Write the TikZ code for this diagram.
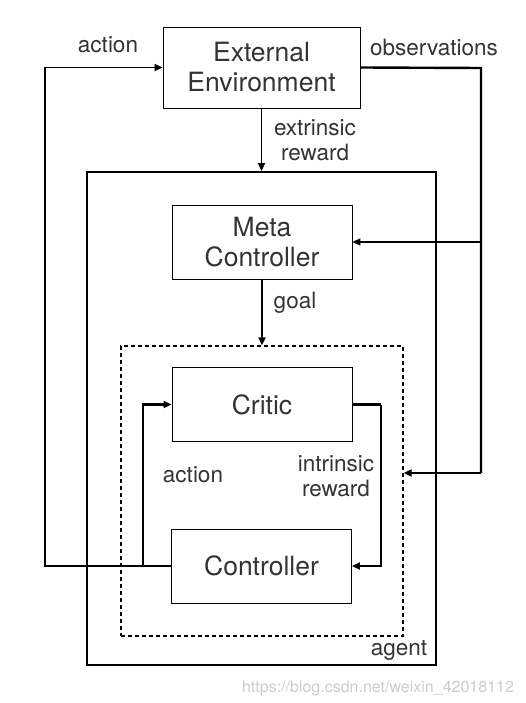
\documentclass[tikz,border=0pt]{standalone}
\usepackage{fontspec}
\setmainfont{TeX Gyre Heros}
\usetikzlibrary{arrows.meta}
\begin{document}
\begin{tikzpicture}[x=1pt,y=-1pt,
  box/.style={draw, line width=0.9pt, align=center, font=\fontsize{26.5}{30}\selectfont, text=black!80},
  lbl/.style={align=center, font=\fontsize{22.5}{25}\selectfont, text=black!80},
  arr/.style={-{Triangle[length=8pt,width=7pt]}},
  thk/.style={line width=1.9pt},
  thkk/.style={line width=2.6pt}]
\useasboundingbox (0,0) rectangle (525,703);
% boxes
\node[box, minimum width=197, minimum height=81] (env) at (261.5,67.5) {External\\Environment};
\node[draw, line width=1.9pt, minimum width=349, minimum height=493] (agent) at (261.5,418.5) {};
\node[box, minimum width=180, minimum height=74] (meta) at (262,242) {Meta\\Controller};
\node[draw, dashed, line width=1.3pt, dash pattern=on 4pt off 3pt, minimum width=282, minimum height=290] (inner) at (262,491) {};
\node[box, minimum width=180, minimum height=74] (critic) at (262,404.5) {Critic};
\node[box, minimum width=180, minimum height=74] (ctrl) at (261.5,566) {Controller};
% labels
\node[lbl] (lact) at (108,45) {action};
\node[lbl] (lobs) at (434,47) {observations};
\node[lbl] (lext) at (315,140) {extrinsic\\reward};
\node[lbl] (lgoal) at (295,303) {goal};
\node[lbl] (liact) at (193,475) {action};
\node[lbl] (lint) at (336,476) {intrinsic\\reward};
\node[lbl] (lagent) at (399,650) {agent};
\node[font=\fontsize{16}{18}\selectfont, text=black!20] (wm) at (378,688) {https://blog.csdn.net/weixin\_42018112};
% coordinates
\coordinate (lx) at (45,566);
\coordinate (ax) at (143,566);
\coordinate (ox) at (481,68);
\coordinate (om) at (481,242);
\coordinate (oi) at (481,473);
\coordinate (rx) at (381,404.5);
% connectors
\draw[thk, arr] (ctrl.west) -- (lx) |- (env.west);
\draw[thkk, arr] (ax) |- (critic.west);
\draw[line width=2.4pt] (env.east) -- (ox) -- (oi);
\draw[thk, arr] (om) -- (meta.east);
\draw[thk, arr] (oi) -- (oi -| inner.east);
\draw[thk, arr] (env.south) -- (agent.north);
\draw[thk, arr] (meta.south) -- (inner.north);
\draw[thkk] (critic.east) -- (rx);
\draw[thk, arr] (rx) |- (ctrl.east);
\end{tikzpicture}
\end{document}
